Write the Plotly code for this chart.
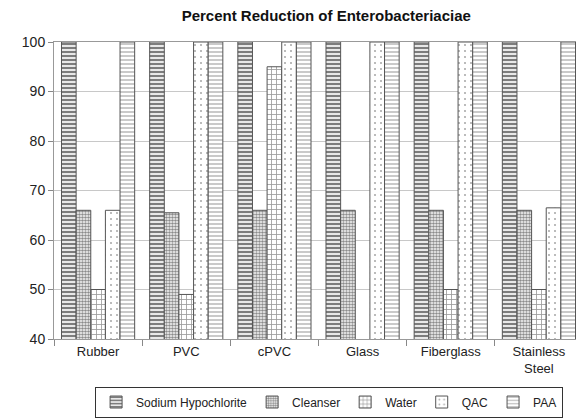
import plotly.graph_objects as go

categories = ["Rubber", "PVC", "cPVC", "Glass", "Fiberglass", "Stainless<br>Steel"]
series_names = ["Sodium Hypochlorite", "Cleanser", "Water", "QAC", "PAA"]
sodium = [100, 100, 100, 100, 100, 100]
cleanser = [66, 65.5, 66, 66, 66, 66]
water = [50, 49, 95, None, 50, 50]
qac = [66, 100, 100, 100, 100, 66.5]
paa = [100, 100, 100, 100, 100, 100]
values = [sodium, cleanser, water, qac, paa]

patterns = [
    dict(shape="-", size=4, solidity=0.5, fgcolor="#111111", bgcolor="#e8e8e8"),
    dict(shape=".", size=3, solidity=0.6, fgcolor="#1a1a1a", bgcolor="white"),
    dict(shape="+", size=5, solidity=0.3, fgcolor="#333333", bgcolor="white"),
    dict(shape=".", size=6, solidity=0.1, fgcolor="#555555", bgcolor="white"),
    dict(shape="-", size=4, solidity=0.35, fgcolor="#666666", bgcolor="white"),
]

fig = go.Figure()
for name, vals, pat in zip(series_names, values, patterns):
    fig.add_trace(go.Bar(
        x=categories, y=vals, name=name,
        marker=dict(color="white", line=dict(color="#555555", width=1), pattern=pat),
    ))

fig.update_layout(
    width=584, height=418,
    barmode="group", bargap=0.17, bargroupgap=0,
    plot_bgcolor="white", paper_bgcolor="white",
    font=dict(family="Liberation Sans, Arial, sans-serif", size=12, color="#222222"),
    title=dict(text="<b>Percent Reduction of Enterobacteriaciae</b>", x=0.545, xanchor="center",
               y=0.995, yanchor="top", font=dict(size=15, color="#111111")),
    margin=dict(l=46, r=9, t=34, b=73),
    legend=dict(orientation="h", x=0.52, xanchor="center", y=-0.16, yanchor="top",
                bordercolor="#333333", borderwidth=1, font=dict(size=12),
                itemwidth=30, tracegroupgap=0),
    yaxis=dict(range=[40, 100], dtick=10, showgrid=True, gridcolor="#c8c8c8",
               ticks="outside", ticklen=5, tickcolor="#888888",
               showline=True, linecolor="#999999", mirror=True,
               tickfont=dict(size=14)),
    xaxis=dict(showline=True, linecolor="#999999", mirror=True, tickson="boundaries",
               ticks="outside", ticklen=6, tickcolor="#888888",
               tickfont=dict(size=13)),
)

fig.write_html("out.html")
